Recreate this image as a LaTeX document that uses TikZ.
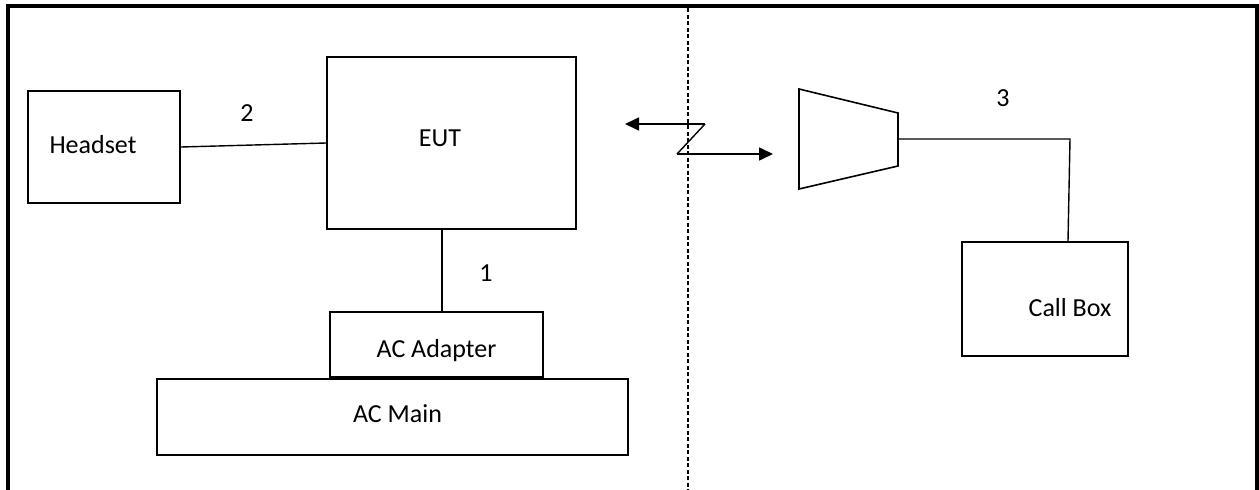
\documentclass[tikz,border=0pt]{standalone}
\usepackage{fontspec}
\setmainfont{Carlito}
\usetikzlibrary{arrows.meta,calc}
\begin{document}
\begin{tikzpicture}[x=1pt,y=-1pt,
  box/.style={draw,line width=1.8pt,inner sep=0pt},
  lab/.style={font=\fontsize{26}{30}\selectfont,inner sep=0pt},
  wire/.style={line width=1.4pt},
  arr/.style={line width=1.6pt,-{Triangle[length=14pt,width=13pt]}}]
\useasboundingbox (0,0) rectangle (1259,490);
% frame (open at bottom)
\draw[line width=4pt] (8,490) -- (8,6) -- (1257,6) -- (1257,490);
% dashed separator
\coordinate (dtop) at (688,8);
\coordinate (dbot) at (688,490);
\draw[line width=1.5pt,dash pattern=on 4pt off 2.5pt] (dtop) -- (dbot);
% boxes
\node[box,minimum width=152pt,minimum height=112pt,
  label={[lab,xshift=-11pt,yshift=2pt]center:Headset}] (headset) at (104,147) {};
\node[box,minimum width=249pt,minimum height=172pt,
  label={[lab,xshift=-11.5pt,yshift=5pt]center:EUT}] (eut) at (451.5,143) {};
\node[box,minimum width=213pt,minimum height=65pt,
  label={[lab,yshift=-6pt]center:AC Adapter}] (adapter) at (436.5,344.5) {};
\node[box,minimum width=471pt,minimum height=76pt,
  label={[lab,xshift=5pt,yshift=3pt]center:AC Main}] (main) at (392.5,417) {};
\node[box,minimum width=166pt,minimum height=114pt,
  label={[lab,xshift=25pt,yshift=-9pt]center:Call Box}] (callbox) at (1045,299) {};
% labels
\node[lab] (l2) at (247,113) {2};
\node[lab] (l1) at (486,273) {1};
\node[lab] (l3) at (1003,98) {3};
% connections
\draw[wire] (headset.east) -- (eut.west);
\coordinate (a1) at ($(adapter.north)+(5.5,0)$);
\draw[wire] (a1) -- (a1 |- eut.south);
% wireless link
\coordinate (z1) at (705,124);
\coordinate (z2) at (677,154);
\coordinate (zl) at (625,124);
\coordinate (zr) at (773,154);
\draw[line width=1.4pt] (z1) -- (z2);
\draw[arr] (z1) -- (zl);
\draw[arr] (z2) -- (zr);
% antenna trapezoid
\coordinate (t1) at (799,89);
\coordinate (t2) at (898,113);
\coordinate (t3) at (898,166);
\coordinate (t4) at (799,189);
\coordinate (tm) at (898,139);
\draw[line width=1.6pt] (t1) -- (t2) -- (t3) -- (t4) -- cycle;
\coordinate (c3) at (1070,139);
\draw[wire] (tm) -- (c3) -- (callbox.north -| 1068,0);
\end{tikzpicture}
\end{document}
